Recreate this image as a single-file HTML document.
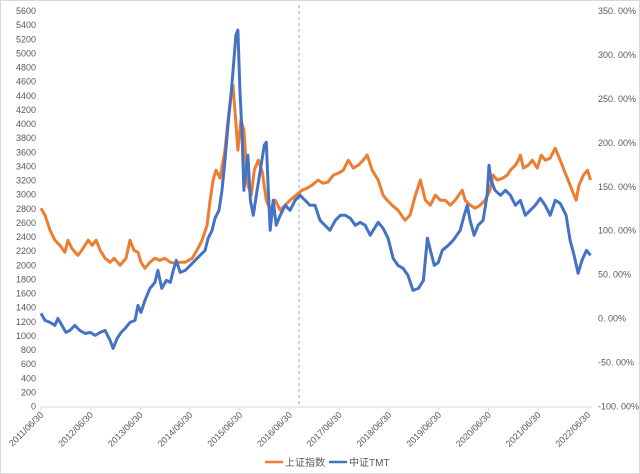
<!DOCTYPE html>
<html><head><meta charset="utf-8"><style>
html,body{margin:0;padding:0;background:#fff}
svg{display:block;font-family:"Liberation Sans","Noto Sans CJK SC",sans-serif}
</style></head><body>
<svg id="chart" width="640" height="474" viewBox="0 0 640 474" xmlns="http://www.w3.org/2000/svg">
<rect x="0.5" y="0.5" width="639" height="473" fill="#fff" stroke="#d9d9d9"/>
<g id="yl"></g>
<g id="yr"></g>
<g id="xa"></g>
<line x1="299" y1="5" x2="299" y2="407" stroke="#a6a6a6" stroke-dasharray="3,3" stroke-width="1"/>
<g id="series"></g>
<g>
<line x1="265" y1="462" x2="283" y2="462" stroke="#ed7d31" stroke-width="2.5"/>
<text x="285" y="466" font-size="10" fill="#595959">上证指数</text>
<line x1="329" y1="462" x2="347" y2="462" stroke="#4472c4" stroke-width="2.5"/>
<text x="349" y="466" font-size="10" fill="#595959">中证TMT</text>
</g>
</svg>
<script>
const leftTicks=[0,200,400,600,800,1000,1200,1400,1600,1800,2000,2200,2400,2600,2800,3000,3200,3400,3600,3800,4000,4200,4400,4600,4800,5000,5200,5400,5600];
const rightTicks=[-100,-50,0,50,100,150,200,250,300,350];
const xYears=[2011,2012,2013,2014,2015,2016,2017,2018,2019,2020,2021,2022];
const shDates=[2011.50,2011.58,2011.68,2011.78,2011.88,2011.98,2012.04,2012.12,2012.24,2012.32,2012.45,2012.53,2012.61,2012.69,2012.79,2012.89,2012.97,2013.09,2013.21,2013.29,2013.37,2013.45,2013.51,2013.59,2013.69,2013.79,2013.89,2013.99,2014.10,2014.20,2014.30,2014.40,2014.54,2014.66,2014.74,2014.84,2014.90,2014.96,2015.02,2015.10,2015.20,2015.26,2015.32,2015.36,2015.40,2015.46,2015.52,2015.58,2015.62,2015.66,2015.73,2015.79,2015.87,2015.95,2016.03,2016.11,2016.21,2016.31,2016.41,2016.51,2016.63,2016.75,2016.85,2016.95,2017.07,2017.17,2017.27,2017.38,2017.48,2017.58,2017.68,2017.78,2017.88,2017.98,2018.06,2018.16,2018.28,2018.38,2018.46,2018.56,2018.68,2018.82,2018.92,2019.03,2019.13,2019.23,2019.33,2019.43,2019.53,2019.63,2019.73,2019.83,2019.97,2020.03,2020.13,2020.23,2020.33,2020.43,2020.53,2020.59,2020.68,2020.78,2020.88,2020.94,2021.04,2021.10,2021.14,2021.20,2021.30,2021.38,2021.48,2021.56,2021.64,2021.74,2021.84,2021.94,2022.02,2022.10,2022.18,2022.26,2022.32,2022.41,2022.49,2022.55];
const shValues=[2808,2708,2496,2354,2283,2184,2354,2240,2141,2212,2354,2283,2354,2212,2099,2042,2099,1999,2099,2354,2212,2184,2042,1957,2042,2099,2070,2099,2042,2028,2042,2042,2099,2240,2354,2567,2921,3205,3346,3233,3630,4055,4410,4552,4197,3630,4055,3914,3488,3134,2992,3346,3488,3318,2921,2779,2921,2779,2850,2921,2992,3063,3091,3134,3205,3162,3176,3276,3304,3346,3488,3375,3417,3488,3559,3346,3205,2992,2921,2850,2779,2637,2708,2992,3205,2921,2850,2992,2921,2921,2850,2921,3063,2921,2850,2808,2850,2921,3063,3276,3205,3233,3276,3346,3417,3488,3559,3375,3417,3488,3375,3559,3488,3517,3658,3488,3346,3205,3063,2921,3134,3276,3346,3205];
const tmtDates=[2011.50,2011.58,2011.68,2011.78,2011.84,2011.92,2012.00,2012.08,2012.18,2012.28,2012.39,2012.49,2012.59,2012.69,2012.79,2012.89,2012.95,2013.03,2013.11,2013.19,2013.29,2013.39,2013.45,2013.51,2013.59,2013.69,2013.79,2013.85,2013.93,2014.02,2014.10,2014.16,2014.22,2014.30,2014.40,2014.50,2014.60,2014.70,2014.80,2014.86,2014.94,2015.00,2015.08,2015.14,2015.20,2015.26,2015.32,2015.38,2015.42,2015.46,2015.50,2015.54,2015.58,2015.62,2015.66,2015.71,2015.77,2015.83,2015.91,2015.99,2016.03,2016.07,2016.11,2016.17,2016.23,2016.31,2016.41,2016.51,2016.61,2016.71,2016.81,2016.91,2017.01,2017.11,2017.21,2017.31,2017.42,2017.52,2017.62,2017.72,2017.82,2017.92,2018.02,2018.12,2018.18,2018.28,2018.38,2018.48,2018.58,2018.68,2018.78,2018.88,2018.98,2019.09,2019.19,2019.27,2019.33,2019.41,2019.49,2019.57,2019.69,2019.79,2019.93,2020.01,2020.07,2020.13,2020.21,2020.29,2020.39,2020.47,2020.51,2020.55,2020.63,2020.74,2020.84,2020.94,2021.04,2021.14,2021.24,2021.34,2021.44,2021.54,2021.64,2021.74,2021.84,2021.94,2022.06,2022.14,2022.22,2022.30,2022.38,2022.47,2022.55];
const tmtValues=[5.9,-2.0,-4.3,-7.7,0.2,-7.7,-15.7,-13.4,-7.7,-13.4,-16.9,-15.7,-19.1,-15.7,-13.4,-24.8,-33.9,-22.5,-15.7,-11.2,-4.3,-2.0,15.0,7.1,20.7,34.4,41.2,54.9,34.4,43.5,41.2,54.9,66.3,52.6,54.9,60.6,66.3,72.0,77.7,91.4,100.5,114.1,123.2,146.0,180.2,220.1,254.2,294.1,322.6,328.3,259.9,214.4,146.0,168.8,185.9,134.6,117.5,140.3,168.8,197.3,200.7,146.0,100.5,134.6,106.2,117.5,128.9,123.2,134.6,140.3,134.6,128.9,128.9,111.9,106.2,100.5,111.9,117.5,117.5,114.1,106.2,109.6,106.2,94.8,100.5,109.6,102.7,91.4,68.6,60.6,57.2,49.2,32.1,34.4,43.5,91.4,77.7,60.6,64.0,77.7,83.4,89.1,100.5,117.5,128.9,111.9,94.8,106.2,111.9,140.3,174.5,157.4,146.0,140.3,146.0,140.3,128.9,134.6,117.5,123.2,128.9,136.9,128.9,117.5,134.6,131.2,117.5,89.1,72.0,51.5,66.3,77.7,72.0];

const NS="http://www.w3.org/2000/svg";
const X0=41,X1=588,YT=11,YB=406.5;
const xScale=d=>X0+(d-2011.5)/11*(X1-X0);
const yLeft=v=>YB-(v/5600)*(YB-YT);
const yRight=p=>YB-((p+100)/450)*(YB-YT);
function mk(tag,attrs,parent){const e=document.createElementNS(NS,tag);for(const k in attrs)e.setAttribute(k,attrs[k]);parent.appendChild(e);return e;}
const yl=document.getElementById('yl'),yr=document.getElementById('yr'),xa=document.getElementById('xa'),sg=document.getElementById('series');
leftTicks.forEach(v=>{const t=mk('text',{x:36,y:yLeft(v)+3,'text-anchor':'end','font-size':'9',fill:'#595959'},yl);t.textContent=v;

});
rightTicks.forEach(p=>{const t=mk('text',{x:598,y:yRight(p)+3,'font-size':'9',fill:'#595959'},yr);t.textContent=p.toFixed(2).replace('.', '. ')+'%';

});
const ax=mk('line',{x1:X0,y1:YB+0.5,x2:592,y2:YB+0.5,stroke:'#d9d9d9','stroke-width':1},xa);


xYears.forEach(y=>{const x=xScale(y+0.5);
const tk=mk('line',{x1:x,y1:YB,x2:x,y2:YB+4,stroke:'#d9d9d9'},xa);


const t=mk('text',{x:x+3,y:YB+9,'text-anchor':'end','font-size':'9',fill:'#595959',transform:`rotate(-45 ${x+3} ${YB+9})`},xa);t.textContent=y+'/06/30';

});
const p1=mk('polyline',{points:shDates.map((d,i)=>xScale(d).toFixed(1)+','+yLeft(shValues[i]).toFixed(1)).join(' '),fill:'none',stroke:'#ed7d31','stroke-width':3,'stroke-linejoin':'round'},sg);


const p2=mk('polyline',{points:tmtDates.map((d,i)=>xScale(d).toFixed(1)+','+yRight(tmtValues[i]).toFixed(1)).join(' '),fill:'none',stroke:'#4472c4','stroke-width':3,'stroke-linejoin':'round'},sg);


</script>
</body></html>
